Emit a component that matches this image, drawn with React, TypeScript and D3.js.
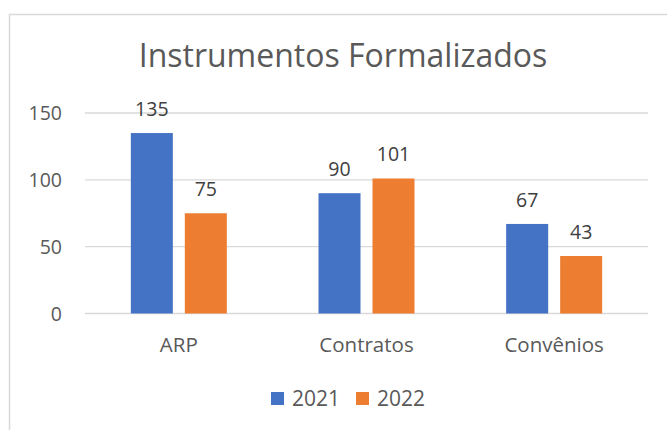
import React from 'react'
import * as d3 from 'd3'

// chart values
const categories = ['ARP', 'Contratos', 'Convênios']
const years = ['2021', '2022']
const values2021 = [135, 90, 67]
const values2022 = [75, 101, 43]
const yTicks = [0, 50, 100, 150]
const colors = ['#4472C4', '#ED7D31']

const W = 667
const H = 430
const font = '"Open Sans", sans-serif'

export default function App() {
  const series = [values2021, values2022]

  const x = d3.scaleBand().domain(categories).range([85, 648]).padding(0)
  const xInner = d3.scaleBand().domain(years).range([0, x.bandwidth()])
    .paddingInner(0.222).paddingOuter(0.849)
  const y = d3.scaleLinear().domain([0, 150]).range([313.5, 113])

  return (
    <svg width={W} height={H} style={{position: 'absolute', left: 0, top: 0, background: '#fff'}}>
      <rect x={9.5} y={14.5} width={W + 10} height={H + 10} fill="#fff" stroke="#d9d9d9" strokeWidth={1.5} />

      <text x={343} y={67} textAnchor="middle" fontFamily={font} fontSize={32} fill="#595959">
        Instrumentos Formalizados
      </text>

      <g id="grid">
        {yTicks.map(t => (
          <g key={t}>
            <line x1={85} x2={648} y1={y(t)} y2={y(t)} stroke="#d9d9d9" strokeWidth={1.3} />
            <text x={62} y={y(t) + 7} textAnchor="end" fontFamily={font} fontSize={19.5} fill="#595959">{t}</text>
          </g>
        ))}
      </g>

      <g id="bars">
        {categories.map((c, i) => years.map((yr, j) => {
          const v = series[j][i]
          const bx = (x(c) as number) + (xInner(yr) as number)
          const bw = xInner.bandwidth()
          return (
            <g key={c + yr}>
              <rect x={bx} y={y(v)} width={bw} height={y(0) - y(v)} fill={colors[j]} />
              <text x={bx + bw / 2} y={y(v) - 17} textAnchor="middle" fontFamily={font} fontSize={19.5} fill="#404040">{v}</text>
            </g>
          )
        }))}
      </g>

      <g id="xaxis">
        {categories.map(c => (
          <text key={c} x={(x(c) as number) + x.bandwidth() / 2} y={352} textAnchor="middle" fontFamily={font} fontSize={20.5} fill="#595959">{c}</text>
        ))}
      </g>

      <g id="legend">
        {years.map((yr, j) => (
          <g key={yr} transform={`translate(${271 + j * 85},392)`}>
            <rect width={13} height={13} fill={colors[j]} />
            <text x={21} y={14} fontFamily={font} fontSize={21} fill="#595959">{yr}</text>
          </g>
        ))}
      </g>
    </svg>
  )
}
